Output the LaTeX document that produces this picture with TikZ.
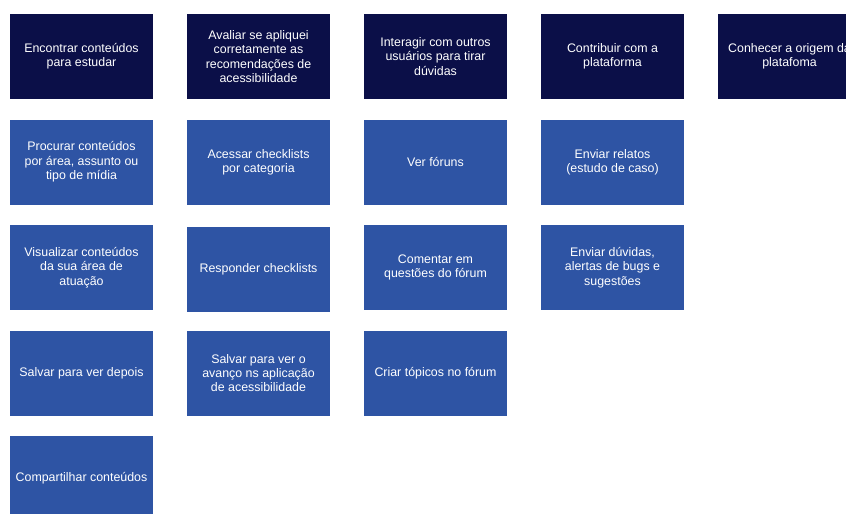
\documentclass[tikz,border=0pt]{standalone}
\usepackage{fontspec}
\setmainfont{Liberation Sans}
\usetikzlibrary{positioning}

\definecolor{navy}{HTML}{0B0F48}
\definecolor{tileblue}{HTML}{2E54A4}

\begin{document}
\begin{tikzpicture}[x=1pt,y=-1pt,darknode/.style={rectangle,fill=navy,text=white,minimum width=143pt,minimum height=85pt,inner sep=0pt,align=center,font=\fontsize{12.4}{14.3}\selectfont},bluenode/.style={darknode,fill=tileblue}, scale=1]
		\clip (0,0) rectangle (846,514);
		% first row: goals
		\node [darknode] (g1) at (81.5, 56.5) {Encontrar conteúdos\\para estudar};
		\node [darknode] (g2) at (258.5, 56.5) {Avaliar se apliquei\\corretamente as\\recomendações de\\acessibilidade};
		\node [darknode] (g3) at (435.5, 56.5) {Interagir com outros\\usuários para tirar\\dúvidas};
		\node [darknode] (g4) at (612.5, 56.5) {Contribuir com a\\plataforma};
		\node [darknode] (g5) at (789.5, 56.5) {Conhecer a origem da\\platafoma};
		% tasks under each goal
		\node [bluenode] (t11) at (81.5, 162) {Procurar conteúdos\\por área, assunto ou\\tipo de mídia};
		\node [bluenode] (t12) at (81.5, 267.5) {Visualizar conteúdos\\da sua área de\\atuação};
		\node [bluenode] (t13) at (81.5, 373) {Salvar para ver depois};
		\node [bluenode] (t14) at (81.5, 478.5) {Compartilhar conteúdos};
		\node [bluenode] (t21) at (258.5, 162) {Acessar checklists\\por categoria};
		\node [bluenode] (t22) at (258.5, 269) {Responder checklists};
		\node [bluenode] (t23) at (258.5, 373) {Salvar para ver o\\avanço ns aplicação\\de acessibilidade};
		\node [bluenode] (t31) at (435.5, 162) {Ver fóruns};
		\node [bluenode] (t32) at (435.5, 267.5) {Comentar em\\questões do fórum};
		\node [bluenode] (t33) at (435.5, 373) {Criar tópicos no fórum};
		\node [bluenode] (t41) at (612.5, 162) {Enviar relatos\\(estudo de caso)};
		\node [bluenode] (t42) at (612.5, 267.5) {Enviar dúvidas,\\alertas de bugs e\\sugestões};
	\end{tikzpicture}
\end{document}
